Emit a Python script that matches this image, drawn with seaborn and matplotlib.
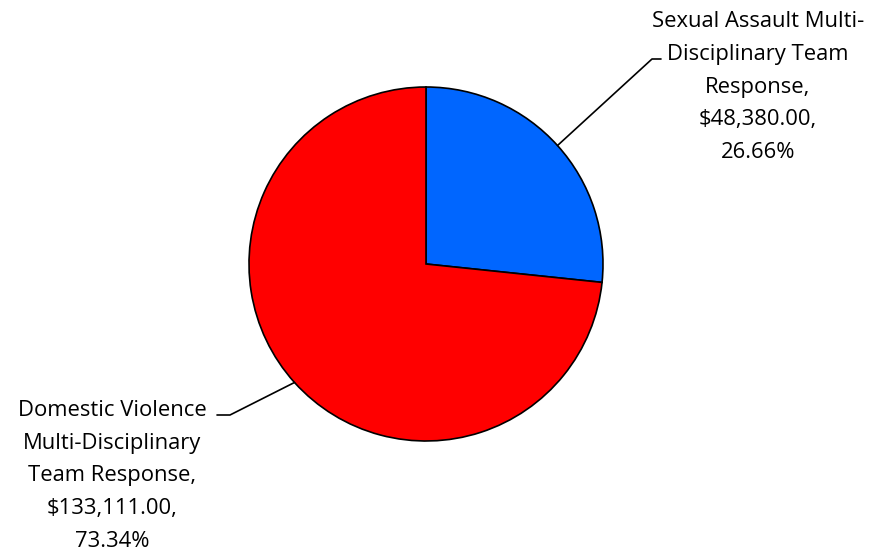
import matplotlib
matplotlib.use('Agg')
import numpy as np
import seaborn as sns
import matplotlib.pyplot as plt

categories = ["Sexual Assault Multi-\nDisciplinary Team\nResponse,",
              "Domestic Violence\nMulti-Disciplinary\nTeam Response,"]
amounts = [48380.00, 133111.00]
percents = ["26.66%", "73.34%"]
colors = ["#0066FF", "#FF0000"]

sns.set_theme(style="white")
plt.rcParams['font.family'] = ['Open Sans', 'DejaVu Sans']

W, H = 881, 552
fig = plt.figure(figsize=(W / 100, H / 100), dpi=100)
ax = fig.add_axes([0, 0, 1, 1])
ax.set_xlim(0, W)
ax.set_ylim(0, H)
ax.set_aspect('equal')
ax.axis('off')

cx, cy, r = 426, H - 264, 177
wedges, _ = ax.pie(amounts, colors=colors, startangle=90, counterclock=False,
                   center=(cx, cy), radius=r,
                   wedgeprops=dict(edgecolor="black", linewidth=1.2))
ax.set_xlim(0, W)
ax.set_ylim(0, H)

# label anchor: (text center x, text center y, elbow x, elbow y, end x)
label_pos = [(758, H - 87, 652, H - 59, 661),
             (112, H - 476, 230, H - 415, 217)]

for w, cat, amt, pct, (tx, ty, ex, ey, hx) in zip(wedges, categories, amounts, percents, label_pos):
    ang = np.deg2rad((w.theta1 + w.theta2) / 2)
    px, py = cx + r * np.cos(ang), cy + r * np.sin(ang)
    ax.plot([px, ex, hx], [py, ey, ey], color="black", lw=1.2)
    txt = "%s\n$%s,\n%s" % (cat, format(amt, ",.2f"), pct)
    ax.text(tx, ty, txt.replace("$", r"\$"), ha="center", va="center",
            fontsize=15.8, linespacing=1.74, color="black")

fig.savefig("out.png", dpi=100)
